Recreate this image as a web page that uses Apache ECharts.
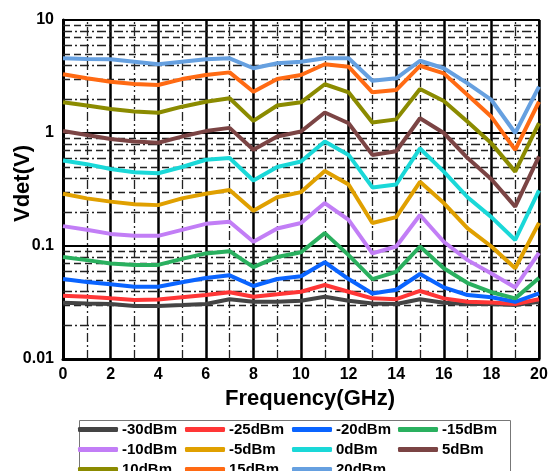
<!DOCTYPE html>
<html><head><meta charset="utf-8">
<script src="https://cdn.jsdelivr.net/npm/echarts@6/dist/echarts.min.js"></script>
<style>html,body{margin:0;padding:0;background:#fff}#c{width:551px;height:471px}</style>
</head><body><div id="c"></div>
<script>
const freq = [0,1,2,3,4,5,6,7,8,9,10,11,12,13,14,15,16,17,18,19,20];
const names = ['-30dBm','-25dBm','-20dBm','-15dBm','-10dBm','-5dBm','0dBm','5dBm','10dBm','15dBm','20dBm'];
const colors = ['#444444','#ff3636','#0a64ff','#2ab05f','#c27ef6','#e0a000','#1ad8d8','#7b4444','#8b8b00','#ff6a13','#66a0e0'];
const sM30 = [0.0315,0.031,0.0306,0.0294,0.0294,0.030,0.0307,0.0338,0.0321,0.0321,0.0328,0.0356,0.0328,0.031,0.0307,0.0338,0.0315,0.0307,0.0307,0.030,0.0321];
const sM25 = [0.0363,0.0356,0.0344,0.0333,0.0336,0.0352,0.0368,0.0389,0.0356,0.0374,0.0394,0.0452,0.0394,0.0344,0.0338,0.040,0.0344,0.0321,0.0316,0.0307,0.0338];
const sM20 = [0.051,0.048,0.0458,0.0436,0.0436,0.0477,0.052,0.055,0.0443,0.051,0.054,0.0718,0.051,0.038,0.041,0.0565,0.043,0.0368,0.0352,0.0321,0.038];
const sM15 = [0.080,0.075,0.070,0.068,0.068,0.077,0.086,0.090,0.065,0.080,0.088,0.13,0.083,0.051,0.059,0.099,0.0635,0.047,0.039,0.0344,0.052];
const sM10 = [0.15,0.139,0.128,0.123,0.123,0.139,0.157,0.164,0.109,0.143,0.16,0.24,0.17,0.086,0.099,0.188,0.109,0.075,0.057,0.043,0.087];
const sM5 = [0.29,0.264,0.247,0.234,0.23,0.264,0.29,0.313,0.205,0.27,0.30,0.46,0.35,0.16,0.18,0.37,0.24,0.143,0.099,0.0635,0.16];
const s0 = [0.57,0.53,0.48,0.45,0.44,0.50,0.58,0.60,0.38,0.50,0.56,0.84,0.64,0.33,0.35,0.73,0.455,0.27,0.18,0.113,0.31];
const s5 = [1.04,0.96,0.885,0.84,0.82,0.93,1.04,1.11,0.71,0.93,1.03,1.52,1.22,0.64,0.69,1.35,1.0,0.60,0.39,0.223,0.62];
const s10 = [1.87,1.75,1.63,1.55,1.51,1.71,1.89,2.03,1.28,1.75,1.87,2.70,2.29,1.24,1.32,2.45,1.92,1.26,0.81,0.455,1.22];
const s15 = [3.31,3.05,2.84,2.72,2.66,3.0,3.26,3.44,2.32,3.0,3.26,4.06,3.86,2.29,2.40,3.92,3.37,2.17,1.39,0.71,1.89];
const s20 = [4.58,4.52,4.50,4.28,4.06,4.28,4.50,4.58,3.74,4.14,4.28,4.58,4.58,2.90,3.05,4.36,3.74,2.75,1.96,1.0,2.57];
const allSeries = [sM30,sM25,sM20,sM15,sM10,sM5,s0,s5,s10,s15,s20];
const yTickLabels = {'0.01':'0.01','0.1':'0.1','1':'1','10':'10'};

const FONT = '"Liberation Sans", Arial, sans-serif';
const dashDot = [9,3,2,3];
const dashed = [7,4];
const minorY = [];
[0.01,0.1,1].forEach(d => {
  for (let k = 2; k <= 9; k++) {
    minorY.push({yAxis: +(d*k).toPrecision(3), lineStyle: {type: (k % 2 === 0) ? dashDot : dashed, color: '#222', width: 1.3}});
  }
});
const minorX = [];
for (let x = 1; x < 20; x += 2) minorX.push({xAxis: x, lineStyle: {type: dashDot, color: '#222', width: 1.3}});

const series = allSeries.map((arr, i) => ({
  name: names[i], type: 'line', z: 5,
  data: freq.map((f, j) => [f, arr[j]]),
  symbol: 'none', lineStyle: {width: 4, color: colors[i]}, itemStyle: {color: colors[i]},
  animation: false
}));
series.unshift({
  name: 'grid', type: 'line', z: 1, data: [], silent: true, animation: false,
  markLine: {silent: true, symbol: 'none', label: {show: false}, animation: false, data: minorY.concat(minorX)}
});

const cols = [[0,4,8],[1,5,9],[2,6,10],[3,7]];
const colX = [78,185,292,398];
const legends = cols.map((c, i) => ({
  orient: 'vertical', left: colX[i], top: 421, width: 105, height: 90, padding: 0, itemGap: 3,
  itemWidth: 40, itemHeight: 5, icon: 'roundRect', selectedMode: false,
  data: c.map(k => names[k]),
  textStyle: {fontFamily: FONT, fontWeight: 'bold', fontSize: 15, color: '#000', lineHeight: 17, padding: [0,0,0,-1]}
}));

const chart = echarts.init(document.getElementById('c'), null, {renderer: 'canvas'});
chart.setOption({
  animation: false,
  backgroundColor: '#fff',
  grid: {left: 63, right: 12, top: 20, bottom: 112, show: true, borderColor: '#222', borderWidth: 2, containLabel: false, outerBoundsMode: 'none'},
  legend: legends,
  graphic: [{type: 'rect', left: 77, top: 418, shape: {width: 431, height: 70}, style: {fill: 'none', stroke: '#777', lineWidth: 1}, silent: true}],
  xAxis: {
    type: 'value', min: 0, max: 20, interval: 2,
    name: 'Frequency(GHz)', nameLocation: 'middle', nameGap: 29, nameMoveOverlap: false,
    nameTextStyle: {fontFamily: FONT, fontWeight: 'bold', fontSize: 22, color: '#000', padding: [0,0,0,18]},
    axisLine: {show: true, onZero: false, lineStyle: {color: '#000', width: 3}},
    axisTick: {show: false},
    axisLabel: {fontFamily: FONT, fontWeight: 'bold', fontSize: 16, color: '#000', margin: 8},
    splitLine: {show: true, lineStyle: {color: '#000', width: 2.5, type: 'solid'}}
  },
  yAxis: {
    type: 'log', logBase: 10, min: 0.01, max: 10,
    name: 'Vdet(V)', nameLocation: 'middle', nameGap: 29, nameRotate: 90, nameMoveOverlap: false,
    nameTextStyle: {fontFamily: FONT, fontWeight: 'bold', fontSize: 22, color: '#000', padding: [0,0,0,12]},
    axisLine: {show: true, lineStyle: {color: '#000', width: 3}},
    axisTick: {show: false},
    axisLabel: {fontFamily: FONT, fontWeight: 'bold', fontSize: 16, color: '#000', margin: 9,
      formatter: v => yTickLabels[String(+v.toPrecision(3))] || ''},
    splitLine: {show: true, lineStyle: {color: '#000', width: 2, type: 'solid'}}
  },
  series: series
});
</script></body></html>
